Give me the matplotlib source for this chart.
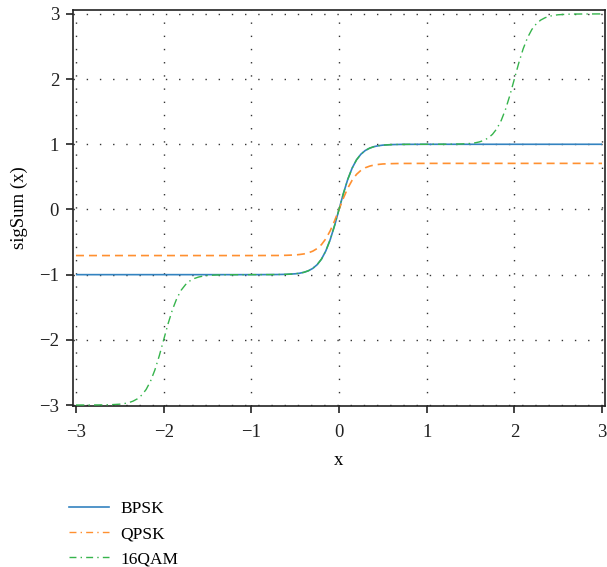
import matplotlib
matplotlib.use("Agg")
import matplotlib.pyplot as plt
from matplotlib.lines import Line2D

plt.rcParams['font.family'] = ['Liberation Serif', 'DejaVu Serif']

# shared x samples
x = [-3.0, -2.8, -2.7, -2.6, -2.5, -2.45, -2.4, -2.35, -2.3, -2.25, -2.2, -2.15, -2.1, -2.05,
     -2.0, -1.95, -1.9, -1.85, -1.8, -1.75, -1.7, -1.65, -1.6, -1.55, -1.5, -1.4, -1.3, -1.2,
     -1.0, -0.8, -0.7, -0.6, -0.5, -0.45, -0.4, -0.35, -0.3, -0.25, -0.2, -0.15, -0.1, -0.05,
     0.0,
     0.05, 0.1, 0.15, 0.2, 0.25, 0.3, 0.35, 0.4, 0.45, 0.5, 0.6, 0.7, 0.8, 1.0,
     1.2, 1.3, 1.4, 1.5, 1.55, 1.6, 1.65, 1.7, 1.75, 1.8, 1.85, 1.9, 1.95, 2.0,
     2.05, 2.1, 2.15, 2.2, 2.25, 2.3, 2.35, 2.4, 2.45, 2.5, 2.6, 2.7, 2.8, 3.0]

bpsk = [-1.0, -1.0, -1.0, -1.0, -1.0, -1.0, -1.0, -1.0, -1.0, -1.0, -1.0, -1.0, -1.0, -1.0,
        -1.0, -1.0, -1.0, -1.0, -1.0, -1.0, -1.0, -1.0, -1.0, -1.0, -1.0, -1.0, -1.0, -1.0,
        -1.0, -0.999, -0.998, -0.995, -0.987, -0.978, -0.964, -0.941, -0.905, -0.848, -0.762, -0.635, -0.462, -0.245,
        0.0,
        0.245, 0.462, 0.635, 0.762, 0.848, 0.905, 0.941, 0.964, 0.978, 0.987, 0.995, 0.998, 0.999, 1.0,
        1.0, 1.0, 1.0, 1.0, 1.0, 1.0, 1.0, 1.0, 1.0, 1.0, 1.0, 1.0, 1.0, 1.0,
        1.0, 1.0, 1.0, 1.0, 1.0, 1.0, 1.0, 1.0, 1.0, 1.0, 1.0, 1.0, 1.0, 1.0]

qpsk = [-0.707, -0.707, -0.707, -0.707, -0.707, -0.707, -0.707, -0.707, -0.707, -0.707, -0.707, -0.707, -0.707, -0.707,
        -0.707, -0.707, -0.707, -0.707, -0.707, -0.707, -0.707, -0.707, -0.707, -0.707, -0.707, -0.707, -0.707, -0.707,
        -0.707, -0.706, -0.706, -0.703, -0.698, -0.691, -0.682, -0.665, -0.640, -0.600, -0.539, -0.449, -0.327, -0.173,
        0.0,
        0.173, 0.327, 0.449, 0.539, 0.600, 0.640, 0.665, 0.682, 0.691, 0.698, 0.703, 0.706, 0.706, 0.707,
        0.707, 0.707, 0.707, 0.707, 0.707, 0.707, 0.707, 0.707, 0.707, 0.707, 0.707, 0.707, 0.707, 0.707,
        0.707, 0.707, 0.707, 0.707, 0.707, 0.707, 0.707, 0.707, 0.707, 0.707, 0.707, 0.707, 0.707, 0.707]

qam16 = [-3.0, -2.999, -2.998, -2.995, -2.987, -2.978, -2.964, -2.941, -2.905, -2.848, -2.762, -2.635, -2.462, -2.245,
         -2.0, -1.755, -1.538, -1.365, -1.238, -1.152, -1.095, -1.059, -1.036, -1.022, -1.013, -1.005, -1.002, -1.001,
         -1.0, -0.999, -0.998, -0.995, -0.987, -0.978, -0.964, -0.941, -0.905, -0.848, -0.762, -0.635, -0.462, -0.245,
         0.0,
         0.245, 0.462, 0.635, 0.762, 0.848, 0.905, 0.941, 0.964, 0.978, 0.987, 0.995, 0.998, 0.999, 1.0,
         1.001, 1.002, 1.005, 1.013, 1.022, 1.036, 1.059, 1.095, 1.152, 1.238, 1.365, 1.538, 1.755, 2.0,
         2.245, 2.462, 2.635, 2.762, 2.848, 2.905, 2.941, 2.964, 2.978, 2.987, 2.995, 2.998, 2.999, 3.0]

labels = ["BPSK", "QPSK", "16QAM"]
colors = ["#3383c0", "#ff9030", "#36b44c"]
xticks = [-3, -2, -1, 0, 1, 2, 3]
yticks = [-3, -2, -1, 0, 1, 2, 3]

fig = plt.figure(figsize=(6.07, 5.67), dpi=100)
ax = fig.add_axes([73/607, 1-406/567, (605-73)/607, (406-10)/567])

ax.plot(x, bpsk, color=colors[0], lw=1.2, solid_capstyle='butt', zorder=3)
ax.plot(x, qpsk, color=colors[1], lw=1.2, dashes=(4.8, 3), zorder=3)
ax.plot(x, qam16, color=colors[2], lw=1.0, dashes=(6, 3, 1, 3), zorder=3)

ax.set_xlim(-3.034, 3.034)
ax.set_ylim(-3.015, 3.06)
ax.set_xticks(xticks)
ax.set_yticks(yticks)
ax.set_xticklabels([("\u2212" if v < 0 else "") + str(abs(v)) for v in xticks])
ax.set_yticklabels([("\u2212" if v < 0 else "") + str(abs(v)) for v in yticks])

ax.grid(True, color="#333333", linewidth=1.0, linestyle=(0, (1, 8.5)), zorder=1)
for s in ax.spines.values():
    s.set_linewidth(1.2)
    s.set_color("#222222")
ax.tick_params(direction='out', length=5, width=1.2, colors="#222222",
               labelsize=13.5, pad=8)
ax.tick_params(axis='y', pad=5)

ax.set_xlabel("x", fontsize=13.5, labelpad=8)
ax.set_ylabel("sigSum (x)", fontsize=13.5, labelpad=8)

handles = [Line2D([], [], color=colors[0], lw=1.2),
           Line2D([], [], color=colors[1], lw=1.0, dashes=(5, 3, 1, 3)),
           Line2D([], [], color=colors[2], lw=1.0, dashes=(5, 3, 1, 3))]
fig.legend(handles, labels, loc='upper left', bbox_to_anchor=(64/607, 1-496/567),
           frameon=False, fontsize=12.5, handlelength=2.3, handletextpad=0.65,
           labelspacing=0.5, borderaxespad=0, borderpad=0.3)

fig.savefig("out.png", dpi=100)
